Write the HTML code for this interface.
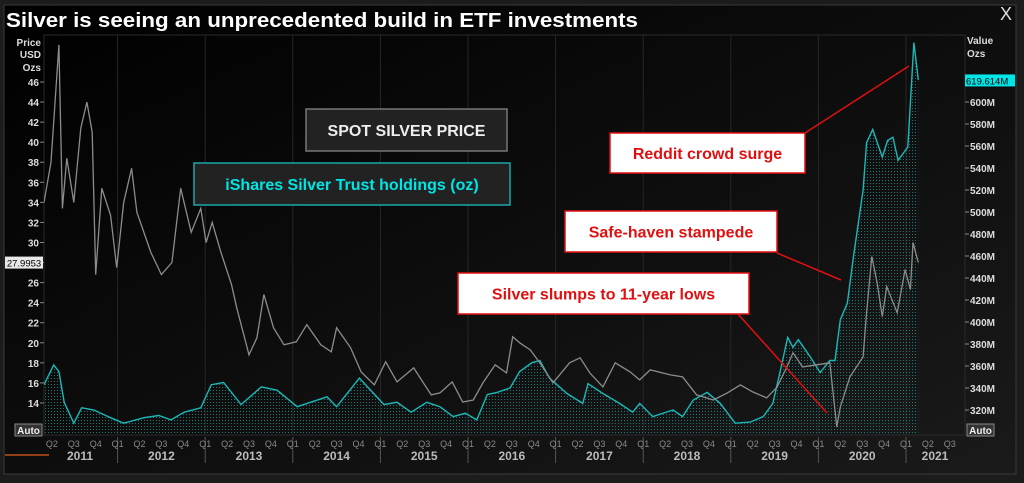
<!DOCTYPE html>
<html><head><meta charset="utf-8"><style>
html,body{margin:0;padding:0;background:#1c1c1c;}
svg{display:block;font-family:"Liberation Sans",sans-serif;}
</style></head><body>
<svg id="c" width="1024" height="483" viewBox="0 0 1024 483">
<defs>
<linearGradient id="bg" x1="0" y1="0" x2="1" y2="1"><stop offset="0" stop-color="#000"/><stop offset="1" stop-color="#1a1a1a"/></linearGradient>
<pattern id="dots" width="3" height="3" patternUnits="userSpaceOnUse"><rect width="1" height="1" fill="#1fb0b0" opacity="0.65"/></pattern>
<clipPath id="pc"><rect x="44" y="35" width="921" height="400"/></clipPath>
</defs>
<rect x="0" y="0" width="1024" height="483" fill="#1c1c1c"/>
<rect x="4" y="5" width="1012" height="469" fill="url(#bg)" stroke="#3a3a3a"/>
<text x="6" y="27" fill="#fff" font-size="20" font-weight="bold" textLength="632" lengthAdjust="spacingAndGlyphs">Silver is seeing an unprecedented build in ETF investments</text>
<text x="1000" y="20" fill="#ddd" font-size="18">X</text>
<rect x="44" y="35" width="921" height="400" fill="none" stroke="#2a2a2a"/>
<g id="grid"></g>
<g id="series" clip-path="url(#pc)"></g>
<g id="axes"></g>
<g id="ann"></g>
</svg>
<script>
const priceDates=[2011.16,2011.24,2011.33,2011.37,2011.42,2011.50,2011.58,2011.65,2011.71,2011.75,2011.82,2011.92,2011.99,2012.07,2012.16,2012.22,2012.38,2012.50,2012.62,2012.72,2012.84,2012.95,2013.01,2013.08,2013.18,2013.30,2013.36,2013.50,2013.59,2013.67,2013.78,2013.90,2014.04,2014.16,2014.32,2014.44,2014.50,2014.66,2014.78,2014.93,2015.06,2015.19,2015.38,2015.58,2015.68,2015.82,2015.94,2016.06,2016.17,2016.31,2016.44,2016.51,2016.59,2016.71,2016.82,2016.97,2017.16,2017.28,2017.39,2017.54,2017.68,2017.85,2017.96,2018.08,2018.31,2018.45,2018.61,2018.80,2018.96,2019.11,2019.25,2019.41,2019.53,2019.64,2019.71,2019.82,2019.98,2020.13,2020.21,2020.25,2020.36,2020.51,2020.55,2020.61,2020.67,2020.73,2020.78,2020.90,2020.99,2021.05,2021.08,2021.14];
const priceValues=[34,38,49.7,33.4,38.4,34,41.4,44,41,26.8,35.4,32.7,27.5,34,37.4,33,29,26.8,28,35.4,31,33.4,30,32,29,25.8,23.5,18.8,20.5,24.8,21.5,19.8,20.1,21.8,19.8,19.1,21.5,19.5,17.1,15.8,18.1,16.1,17.5,14.8,15.0,16.1,14.1,14.3,16.0,17.8,17.0,20.6,20.0,19.3,18.0,16.0,18.0,18.5,17.0,15.6,18.0,17.1,16.3,17.3,16.8,16.6,14.8,14.3,15.0,15.8,15.1,14.5,15.6,17.6,19.0,17.6,17.8,18.0,11.6,13.6,16.6,18.6,23.0,28.6,26.0,22.6,25.6,23.0,27.3,25.3,30.0,28.0];
const etfDates=[2011.16,2011.27,2011.33,2011.39,2011.50,2011.59,2011.73,2011.92,2012.07,2012.30,2012.47,2012.61,2012.76,2012.95,2013.07,2013.21,2013.41,2013.64,2013.82,2014.05,2014.39,2014.50,2014.76,2015.04,2015.19,2015.35,2015.53,2015.68,2015.83,2015.97,2016.10,2016.22,2016.33,2016.48,2016.59,2016.73,2016.82,2016.93,2017.13,2017.31,2017.37,2017.54,2017.73,2017.88,2017.96,2018.11,2018.34,2018.45,2018.57,2018.73,2018.88,2019.05,2019.22,2019.37,2019.48,2019.56,2019.65,2019.71,2019.77,2019.91,2020.02,2020.13,2020.19,2020.25,2020.33,2020.40,2020.51,2020.55,2020.62,2020.73,2020.79,2020.85,2020.91,2021.02,2021.09,2021.14];
const etfValues=[343,361,355,327,308,322,320,313,308,313,315,311,318,322,343,345,325,341,338,323,332,323,349,325,327,318,327,323,314,317,311,334,336,340,355,363,365,349,335,326,344,335,326,318,326,314,320,314,329,336,326,308,309,314,326,354,386,377,384,368,354,365,365,402,417,459,520,563,575,550,565,568,547,559,654,620];
const priceTicks=[14,16,18,20,22,24,26,28,30,32,34,36,38,40,42,44,46];
const etfTicks=[320,340,360,380,400,420,440,460,480,500,520,540,560,580,600];
const years=[2011,2012,2013,2014,2015,2016,2017,2018,2019,2020,2021];
const quarterLabels=['Q1','Q2','Q3','Q4'];
const lastPrice='27.9953', lastEtf='619.614M';

const NS='http://www.w3.org/2000/svg';
const xT=t=>117.6+(t-2012)*87.6;
const yP=p=>82+(46-p)*10.03;
const yE=v=>102+(600-v)*1.1;
function mk(tag,attrs,parent,txt){const e=document.createElementNS(NS,tag);for(const k in attrs)e.setAttribute(k,attrs[k]);if(txt!==undefined)e.textContent=txt;parent.appendChild(e);return e;}
const grid=document.getElementById('grid'),ser=document.getElementById('series'),ax=document.getElementById('axes'),ann=document.getElementById('ann');

years.forEach(y=>{
  const x=xT(y);
  if(x>44&&x<965){const l=mk('line',{x1:x,y1:35,x2:x,y2:435,stroke:'#262626'},grid);
  
  
  const s=mk('line',{x1:x,y1:437,x2:x,y2:463,stroke:'#555'},ax);
  
  }
  quarterLabels.forEach((q,i)=>{const qx=xT(y+i*0.25);
    if(qx>48&&qx<962){const t=mk('text',{x:qx,y:447,fill:'#8a8a8a','font-size':9,'text-anchor':'middle'},ax,q);
    
    }});
  const cx=xT(y+0.5);
  const t=mk('text',{x:y===2011?80:(y===2021?935:cx),y:460,fill:'#bbb','font-size':12,'font-weight':'bold','text-anchor':'middle'},ax,String(y));
  
  
});

let pts=etfDates.map((d,i)=>xT(d).toFixed(1)+','+yE(etfValues[i]).toFixed(1));
const area=mk('polygon',{points:xT(etfDates[0])+',435 '+pts.join(' ')+' '+xT(etfDates[etfDates.length-1])+',435',fill:'url(#dots)'},ser);


const el=mk('polyline',{points:pts.join(' '),fill:'none',stroke:'#1cb8b8','stroke-width':1.4},ser);


const pp=priceDates.map((d,i)=>xT(d).toFixed(1)+','+yP(priceValues[i]).toFixed(1));
const pl=mk('polyline',{points:pp.join(' '),fill:'none',stroke:'#8c8c8c','stroke-width':1.3},ser);



[['Price',46],['USD',58],['Ozs',71]].forEach(a=>{const t=mk('text',{x:41,y:a[1],fill:'#ddd','font-size':10,'font-weight':'bold','text-anchor':'end'},ax,a[0]);

});
[['Value',44],['Ozs',57]].forEach(a=>{const t=mk('text',{x:967,y:a[1],fill:'#ddd','font-size':10,'font-weight':'bold'},ax,a[0]);

});
priceTicks.forEach(p=>{const y=yP(p);
  const t=mk('text',{x:39,y:y+4,fill:'#ddd','font-size':10,'font-weight':'bold','text-anchor':'end'},ax,String(p));
  
  
  mk('line',{x1:40,y1:y,x2:44,y2:y,stroke:'#888'},ax);});
etfTicks.forEach(v=>{const y=yE(v);
  const t=mk('text',{x:970,y:y+4,fill:'#ddd','font-size':10,'font-weight':'bold'},ax,v+'M');
  
  
  mk('line',{x1:965,y1:y,x2:969,y2:y,stroke:'#888'},ax);});
let g=mk('g',{},ax);
mk('rect',{x:5,y:yP(27.9953)-6,width:38,height:12,fill:'#e8e8e8'},g);
mk('text',{x:24,y:yP(27.9953)+4,fill:'#000','font-size':9.5,'text-anchor':'middle'},g,lastPrice);
g=mk('g',{},ax);
mk('rect',{x:965,y:yE(619.614)-6,width:50,height:12,fill:'#00e5e5'},g);
mk('text',{x:966,y:yE(619.614)+4,fill:'#000','font-size':9.5},g,lastEtf);
[[15,424],[967,424]].forEach(a=>{const gg=mk('g',{},ax);


mk('rect',{x:a[0],y:a[1],width:27,height:12,fill:'#333',stroke:'#888'},gg);
mk('text',{x:a[0]+13.5,y:a[1]+10,fill:'#eee','font-size':10,'font-weight':'bold','text-anchor':'middle'},gg,'Auto');});
mk('line',{x1:5,y1:455,x2:49,y2:455,stroke:'#c0501a','stroke-width':1.5},ax);

function box(x,y,w,h,fill,stroke,color,txt,name,fs){const gg=mk('g',{},ann);


mk('rect',{x:x,y:y,width:w,height:h,fill:fill,stroke:stroke,'stroke-width':1.5},gg);
mk('text',{x:x+w/2,y:y+h/2+6,fill:color,'font-size':fs,'font-weight':'bold','text-anchor':'middle'},gg,txt);}
[[805,133,909,66],[777,253,841,280],[737,313,827,413]].forEach(l=>{const ln=mk('line',{x1:l[0],y1:l[1],x2:l[2],y2:l[3],stroke:'#e01010','stroke-width':1.5},ann);

});
box(306,109,201,42,'#222','#777','#eee','SPOT SILVER PRICE','spot-silver-price-label',16);
box(194,163,316,42,'#222','#1aa8a8','#00e5e5','iShares Silver Trust holdings (oz)','etf-holdings-label',16);
box(610,133,195,40,'#fff','#e01010','#e01010','Reddit crowd surge','reddit-surge-annotation',16);
box(565,211,212,41,'#fff','#e01010','#e01010','Safe-haven stampede','safe-haven-annotation',16);
box(458,273,291,41,'#fff','#e01010','#e01010','Silver slumps to 11-year lows','silver-lows-annotation',16);
</script>
</body></html>
